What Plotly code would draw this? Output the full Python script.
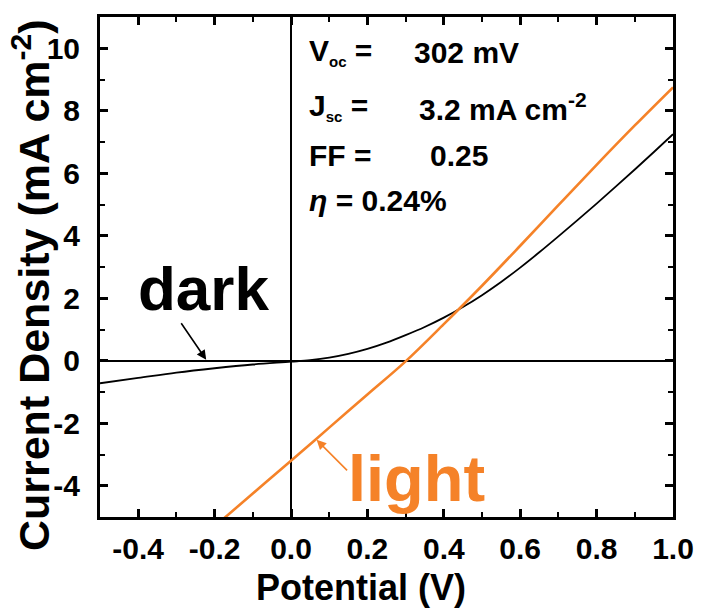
import plotly.graph_objects as go

# J-V curves of the cell, potential in V, current density in mA cm^-2
dark_v = [-0.5, -0.4, -0.3, -0.2, -0.1, 0.0, 0.05, 0.1, 0.15, 0.2, 0.25, 0.3, 0.35,
          0.4, 0.45, 0.5, 0.55, 0.6, 0.65, 0.7, 0.75, 0.8, 0.85, 0.9, 0.95, 1.0]
dark_j = [-0.72, -0.55, -0.38, -0.24, -0.12, -0.03, 0.02, 0.1, 0.22, 0.38, 0.58, 0.82,
          1.08, 1.38, 1.72, 2.1, 2.52, 2.98, 3.47, 3.98, 4.5, 5.03, 5.57, 6.12, 6.68, 7.25]

light_v = [-0.2, -0.1, 0.0, 0.1, 0.2, 0.3, 0.4, 0.5, 0.6, 0.7, 0.8, 0.9, 1.0]
light_j = [-5.3, -4.25, -3.2, -2.14, -1.08, -0.02, 1.17, 2.4, 3.68, 4.98, 6.27, 7.53, 8.75]

# axis tick labels
x_ticks = [-0.4, -0.2, 0.0, 0.2, 0.4, 0.6, 0.8, 1.0]
x_tick_labels = ["-0.4", "-0.2", "0.0", "0.2", "0.4", "0.6", "0.8", "1.0"]
y_ticks = [-4, -2, 0, 2, 4, 6, 8, 10]
y_tick_labels = ["-4", "-2", "0", "2", "4", "6", "8", "10"]

# cell parameters printed in the panel
SUB = "<sub><span style='font-size:15px'>{}</span></sub>"
param_names = ["V" + SUB.format("oc") + " =", "J" + SUB.format("sc") + " =", "FF =", "<i>η</i> = 0.24%"]
param_values = ["302 mV", "3.2 mA cm<sup>-2</sup>", "0.25", ""]

ORANGE = "rgb(245,130,40)"
FONT = "Liberation Sans, Arial, sans-serif"

fig = go.Figure()
fig.add_trace(go.Scatter(x=dark_v, y=dark_j, mode="lines", line=dict(color="black", width=1.8, shape="spline"),
                         showlegend=False))
fig.add_trace(go.Scatter(x=light_v, y=light_j, mode="lines", line=dict(color=ORANGE, width=2.6, shape="spline"),
                         showlegend=False))

axis_common = dict(
    showline=True, linecolor="black", linewidth=3, mirror="ticks",
    ticks="inside", tickcolor="black", tickwidth=2.5, ticklen=8,
    showgrid=False, zeroline=True, zerolinecolor="black", zerolinewidth=2,
    tickfont=dict(family=FONT, size=30, color="black", weight="bold"),
)

fig.update_xaxes(range=[-0.5, 1.0], tickmode="array", tickvals=x_ticks, ticktext=x_tick_labels,
                 minor=dict(ticks="inside", dtick=0.1, tick0=0, ticklen=5, tickwidth=2, tickcolor="black"),
                 ticklabelstandoff=3, **axis_common)
fig.update_yaxes(range=[-5, 11], tickmode="array", tickvals=y_ticks, ticktext=y_tick_labels,
                 minor=dict(ticks="inside", dtick=1, tick0=0, ticklen=5, tickwidth=2, tickcolor="black"),
                 ticklabelstandoff=11, **axis_common)

# axis titles
fig.add_annotation(xref="paper", yref="paper", x=(365 - 100) / 582, y=-(587 - 517) / 500,
                   text="Potential (V)", showarrow=False, xanchor="center", yanchor="middle",
                   font=dict(family=FONT, size=36, color="black", weight="bold"))
fig.add_annotation(xref="paper", yref="paper", x=-(100 - 30) / 582, y=(517 - 285) / 500,
                   text="Current Density (mA cm<sup>-2</sup>)", textangle=-90, showarrow=False,
                   xanchor="center", yanchor="middle",
                   font=dict(family=FONT, size=43, color="black", weight="bold"))

row_y = [9.87, 8.13, 6.56, 5.12]
value_x = [0.317, 0.33, 0.358, 0.0]
for name, val, yy, vx in zip(param_names, param_values, row_y, value_x):
    fig.add_annotation(x=0.041, y=yy, text=name, showarrow=False, xanchor="left", yanchor="middle",
                       font=dict(family=FONT, size=30, color="black", weight="bold"))
    if val:
        fig.add_annotation(x=vx, y=yy, text=val, showarrow=False, xanchor="left", yanchor="middle",
                           font=dict(family=FONT, size=30, color="black", weight="bold"))

# curve labels with pointer arrows
fig.add_annotation(x=-0.228, y=2.3, text="dark", showarrow=False,
                   font=dict(family=FONT, size=62, color="black", weight="bold"))
fig.add_annotation(x=-0.222, y=0.03, ax=-26, ay=-38, text="", showarrow=True,
                   arrowhead=2, arrowsize=1.2, arrowwidth=1.6, arrowcolor="black")
fig.add_annotation(x=0.329, y=-3.78, text="light", showarrow=False,
                   font=dict(family=FONT, size=65, color=ORANGE, weight="bold"))
fig.add_annotation(x=0.067, y=-2.53, ax=32, ay=32, text="", showarrow=True,
                   arrowhead=2, arrowsize=1.2, arrowwidth=1.6, arrowcolor=ORANGE)

fig.update_layout(width=706, height=608, margin=dict(l=100, r=24, t=17, b=91),
                  plot_bgcolor="white", paper_bgcolor="white")

fig.write_html("out.html")
